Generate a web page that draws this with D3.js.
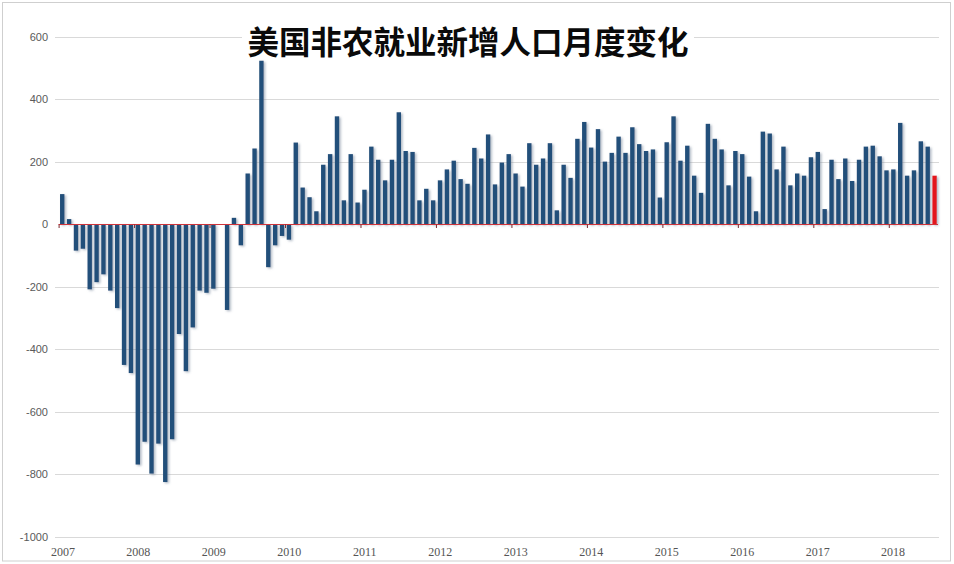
<!DOCTYPE html>
<html>
<head>
<meta charset="utf-8">
<script src="https://cdn.jsdelivr.net/npm/d3@7"></script>
<style>
  html, body { margin: 0; padding: 0; background: #fff; }
  svg { display: block; }
</style>
</head>
<body>
<svg id="chart" width="954" height="564"></svg>
<script>
// ---- data ----
const title = "美国非农就业新增人口月度变化";
const values = [
  97, 17, -84, -78, -208, -185, -160, -212, -268, -450,
  -476, -769, -696, -798, -702, -825, -688, -351, -470, -330,
  -212, -219, -206, 0, -274, 21, -67, 163, 243, 524,
  -137, -67, -37, -49, 262, 118, 87, 42, 191, 225,
  346, 77, 225, 70, 111, 249, 207, 141, 207, 359,
  235, 232, 77, 114, 77, 141, 176, 204, 145, 130,
  245, 211, 288, 128, 198, 225, 163, 121, 260, 191,
  211, 260, 45, 191, 149, 274, 328, 246, 305, 201,
  229, 281, 229, 311, 257, 235, 240, 86, 263, 346,
  204, 252, 156, 101, 322, 274, 240, 125, 235, 225,
  153, 42, 297, 291, 176, 249, 125, 163, 156, 215,
  232, 49, 207, 145, 211, 139, 207, 249, 252, 218,
  173, 176, 325, 156, 173, 266, 249, 156
];
const years = [2007, 2008, 2009, 2010, 2011, 2012, 2013, 2014, 2015, 2016, 2017, 2018];
const yTicks = [-1000, -800, -600, -400, -200, 0, 200, 400, 600];

// ---- layout ----
const svg = d3.select("#chart");
const x = d3.scaleBand()
  .domain(d3.range(values.length))
  .range([58.8, 938])
  .paddingInner(0.36)
  .paddingOuter(0.18);
const y = d3.scaleLinear().domain([-1000, 600]).range([536.7, 37]);
const xYear = d3.scaleLinear().domain([2007, 2018]).range([59.1, 889.3]);

// frame
svg.append("rect")
  .attr("x", 2.5).attr("y", 2.5).attr("width", 948).attr("height", 558.5)
  .attr("fill", "#fff").attr("stroke", "#cfcfcf").attr("stroke-width", 1);

// drop shadow filter for bars
const defs = svg.append("defs");
const f = defs.append("filter").attr("id", "sh")
  .attr("x", "-50%").attr("y", "-5%").attr("width", "250%").attr("height", "115%");
f.append("feDropShadow").attr("dx", 1.6).attr("dy", 1.2)
  .attr("stdDeviation", 0.9).attr("flood-color", "#6f8296").attr("flood-opacity", 0.55);

// gridlines
svg.append("g").selectAll("line").data(yTicks.filter(d => d !== 0)).join("line")
  .attr("x1", 55).attr("x2", 939)
  .attr("y1", d => Math.round(y(d)) + 0.5).attr("y2", d => Math.round(y(d)) + 0.5)
  .attr("stroke", "#d9d9d9").attr("stroke-width", 1);

// y labels
svg.append("g").selectAll("text").data(yTicks).join("text")
  .attr("x", 48).attr("y", d => y(d)).attr("dy", "0.35em")
  .attr("text-anchor", "end")
  .attr("font-family", "Liberation Sans, Arial, sans-serif")
  .attr("font-size", 11).attr("fill", "#5a5a5a")
  .text(d => d);

// bars
svg.append("g").attr("filter", "url(#sh)")
  .selectAll("rect").data(values).join("rect")
  .attr("x", (d, i) => x(i))
  .attr("width", x.bandwidth())
  .attr("y", d => y(Math.max(0, d)))
  .attr("height", d => Math.abs(y(d) - y(0)))
  .attr("fill", (d, i) => i === values.length - 1 ? "#e3171b" : "#244f7a");

// zero line
const y0 = Math.round(y(0)) + 0.5;
svg.append("line")
  .attr("x1", 58.5).attr("x2", 938).attr("y1", y0).attr("y2", y0)
  .attr("stroke", "#d0343a").attr("stroke-width", 1.2);
svg.append("g").selectAll("line").data(years).join("line")
  .attr("x1", d => xYear(d)).attr("x2", d => xYear(d))
  .attr("y1", y0).attr("y2", y0 + 3.5)
  .attr("stroke", "#7a2a30").attr("stroke-width", 1);

// x labels (years)
svg.append("g").selectAll("text").data(years).join("text")
  .attr("x", d => xYear(d) + 3.8).attr("y", 556)
  .attr("text-anchor", "middle")
  .attr("font-family", "Liberation Serif, Times New Roman, serif")
  .attr("font-size", 12).attr("fill", "#555")
  .text(d => d);

// title with white backing
svg.append("rect").attr("x", 242).attr("y", 27).attr("width", 452).attr("height", 31).attr("fill", "#fff");
svg.append("text")
  .attr("x", 468).attr("y", 43).attr("dy", "0.36em")
  .attr("text-anchor", "middle")
  .attr("font-family", "Noto Sans CJK SC, sans-serif")
  .attr("font-weight", 700).attr("font-size", 31.5).attr("fill", "#0a0a0a")
  .text(title);
</script>
</body>
</html>
